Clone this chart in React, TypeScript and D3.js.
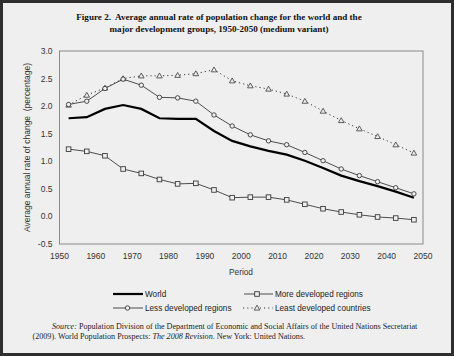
import React from "react";
import * as d3 from "d3";

const periods = [1952.5, 1957.5, 1962.5, 1967.5, 1972.5, 1977.5, 1982.5, 1987.5, 1992.5, 1997.5, 2002.5, 2007.5, 2012.5, 2017.5, 2022.5, 2027.5, 2032.5, 2037.5, 2042.5, 2047.5];
const world = [1.78, 1.80, 1.95, 2.02, 1.95, 1.78, 1.77, 1.77, 1.55, 1.37, 1.27, 1.19, 1.12, 1.01, 0.88, 0.74, 0.64, 0.55, 0.45, 0.34];
const moreDeveloped = [1.22, 1.18, 1.10, 0.86, 0.78, 0.67, 0.59, 0.60, 0.48, 0.34, 0.35, 0.35, 0.30, 0.22, 0.14, 0.08, 0.03, -0.01, -0.03, -0.06];
const lessDeveloped = [2.03, 2.09, 2.32, 2.49, 2.38, 2.16, 2.15, 2.09, 1.84, 1.64, 1.48, 1.37, 1.30, 1.16, 1.01, 0.86, 0.74, 0.63, 0.52, 0.41];
const leastDeveloped = [2.02, 2.20, 2.33, 2.50, 2.55, 2.55, 2.56, 2.59, 2.66, 2.46, 2.37, 2.31, 2.22, 2.09, 1.91, 1.74, 1.59, 1.45, 1.30, 1.15];
const xTicks = [1950, 1960, 1970, 1980, 1990, 2000, 2010, 2020, 2030, 2040, 2050];
const yTicks = [-0.5, 0.0, 0.5, 1.0, 1.5, 2.0, 2.5, 3.0];

const W = 454, H = 356;
const L = 59.5, R = 423, T = 51, B = 244;
const x = d3.scaleLinear().domain([1950, 2050]).range([L, R]);
const y = d3.scaleLinear().domain([-0.5, 3.0]).range([B, T]);
const line = d3.line<number>().x((_, i) => x(periods[i])).y((d) => y(d));

const sans = "Liberation Sans, Arial, sans-serif";
const serif = "Liberation Serif, Times New Roman, serif";
const ink = "#3a3a3a";

function Square({ cx, cy }: { cx: number; cy: number }) {
  return <rect x={cx - 2.3} y={cy - 2.3} width={4.6} height={4.6} fill="#efefef" stroke={ink} strokeWidth={0.9} />;
}
function Circle({ cx, cy }: { cx: number; cy: number }) {
  return <circle cx={cx} cy={cy} r={2.2} fill="#efefef" stroke={ink} strokeWidth={0.9} />;
}
function Tri({ cx, cy }: { cx: number; cy: number }) {
  const s = 2.8;
  return <path d={`M${cx},${cy - s}L${cx + s},${cy + s * 0.75}L${cx - s},${cy + s * 0.75}Z`} fill="#efefef" stroke={ink} strokeWidth={0.8} />;
}

export default function App() {
  return (
    <svg width={W} height={H} style={{ position: "absolute", left: 0, top: 0, display: "block" }}>
      <rect x={0} y={0} width={W} height={H} fill="#2e2e2e" />
      <rect x={3} y={3} width={W - 6} height={H - 6} fill="#efefef" />
      <text x={219} y={20} textAnchor="middle" fontFamily={serif} fontWeight="bold" fontSize={9.1} fill="#111" style={{ whiteSpace: "pre" }}>
        {"Figure 2.  Average annual rate of population change for the world and the"}
      </text>
      <text x={219} y={32} textAnchor="middle" fontFamily={serif} fontWeight="bold" fontSize={9.1} fill="#111">
        major development groups, 1950-2050 (medium variant)
      </text>
      <rect x={L} y={T} width={R - L} height={B - T} fill="none" stroke="#8a8a8a" strokeWidth={1} />
      {yTicks.map((t) => (
        <text key={t} x={52.5} y={y(t) + 3} textAnchor="end" fontFamily={sans} fontSize={8.5} fill="#333">
          {t.toFixed(1)}
        </text>
      ))}
      {xTicks.map((t) => (
        <text key={t} x={x(t)} y={259} textAnchor="middle" fontFamily={sans} fontSize={8.5} fill="#333">
          {t}
        </text>
      ))}
      <text transform={`translate(30,${(T + B) / 2}) rotate(-90)`} textAnchor="middle" fontFamily={sans} fontSize={8.5} fill="#333" style={{ whiteSpace: "pre" }}>
        {"Average annual rate of change  (percentage)"}
      </text>
      <text x={241} y={275} textAnchor="middle" fontFamily={sans} fontSize={8.3} fill="#333">Period</text>

      <path d={line(leastDeveloped) || ""} fill="none" stroke={ink} strokeWidth={1} strokeDasharray="1.2,3" />
      <path d={line(moreDeveloped) || ""} fill="none" stroke={ink} strokeWidth={0.9} />
      <path d={line(lessDeveloped) || ""} fill="none" stroke={ink} strokeWidth={0.9} />
      <path d={line(world) || ""} fill="none" stroke="#000" strokeWidth={2.2} />
      {leastDeveloped.map((v, i) => <Tri key={"t" + i} cx={x(periods[i])} cy={y(v)} />)}
      {moreDeveloped.map((v, i) => <Square key={"s" + i} cx={x(periods[i])} cy={y(v)} />)}
      {lessDeveloped.map((v, i) => <Circle key={"c" + i} cx={x(periods[i])} cy={y(v)} />)}

      <g fontFamily={sans} fontSize={8.2} fill="#222">
        <line x1={113} x2={143} y1={294} y2={294} stroke="#000" strokeWidth={2.2} />
        <text x={145} y={297}>World</text>
        <line x1={244} x2={273} y1={294} y2={294} stroke={ink} strokeWidth={0.9} />
        <Square cx={257} cy={294} />
        <text x={275} y={297}>More developed regions</text>
        <line x1={113} x2={143} y1={308} y2={308} stroke={ink} strokeWidth={0.9} />
        <Circle cx={127.5} cy={308} />
        <text x={145} y={311}>Less developed regions</text>
        <line x1={243} x2={273} y1={308} y2={308} stroke={ink} strokeWidth={1} strokeDasharray="1.2,3" />
        <Tri cx={257} cy={308} />
        <text x={275} y={311}>Least developed countries</text>
      </g>

      <text x={52} y={329} fontFamily={serif} fontSize={8.1} fill="#222">
        <tspan fontStyle="italic">Source:</tspan> Population Division of the Department of Economic and Social Affairs of the United Nations Secretariat
      </text>
      <text x={32.5} y={338.5} fontFamily={serif} fontSize={8.1} fill="#222">
        (2009). World Population Prospects: <tspan fontStyle="italic">The 2008 Revision</tspan>. New York: United Nations.
      </text>
    </svg>
  );
}
